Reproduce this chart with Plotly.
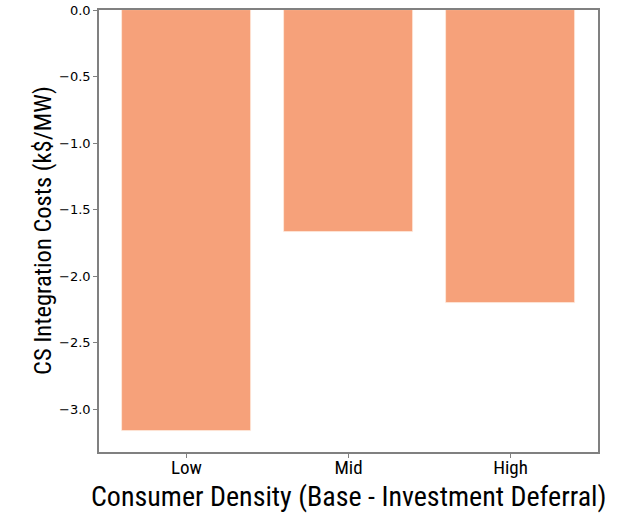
import plotly.graph_objects as go

# Consumer density scenarios and the cost change for each
categories = ["Low", "Mid", "High"]
costs = [-3.165, -1.669, -2.203]
y_ticks = [0.0, -0.5, -1.0, -1.5, -2.0, -2.5, -3.0]

bar_color = "#F6A17A"
frame_color = "#808080"
title_font = "Roboto Condensed, Liberation Sans Narrow, sans-serif"

fig = go.Figure()
fig.add_trace(go.Bar(
    x=list(range(len(categories))),
    y=costs,
    width=0.8,
    marker=dict(color=bar_color, line=dict(color="rgba(255,235,225,0.9)", width=0.8)),
    showlegend=False,
))

ymin = min(costs) * 1.05
fig.update_layout(
    width=624, height=513,
    margin=dict(l=99, r=26, t=10, b=61, autoexpand=False),
    plot_bgcolor="white", paper_bgcolor="white",
    bargap=0,
    xaxis=dict(
        range=[-0.54, 2.54],
        tickmode="array",
        tickvals=list(range(len(categories))),
        ticktext=categories,
        showline=True, mirror=True, linecolor=frame_color, linewidth=1.5,
        ticks="outside", ticklen=4, tickcolor=frame_color, tickwidth=1,
        tickfont=dict(family=title_font, size=19, color="black"),
        ticklabelstandoff=-7,
        showgrid=False, zeroline=False, automargin=False,
    ),
    yaxis=dict(
        range=[ymin, 0],
        tickmode="array",
        tickvals=y_ticks,
        ticktext=[f"{v:.1f}".replace("-", "\u2212") for v in y_ticks],
        showline=True, mirror=True, linecolor=frame_color, linewidth=1.5,
        ticks="outside", ticklen=4, tickcolor=frame_color, tickwidth=1,
        tickfont=dict(family="DejaVu Sans", size=13, color="black"),
        showgrid=False, zeroline=False, automargin=False,
    ),
    annotations=[
        dict(text="Consumer Density (Base - Investment Deferral)",
             xref="paper", yref="paper", x=0.5, y=0, yshift=-44,
             xanchor="center", yanchor="middle", showarrow=False,
             font=dict(family=title_font, size=28, color="black")),
        dict(text="CS Integration Costs (k$/MW)",
             xref="paper", yref="paper", x=0, y=0.5, xshift=-57,
             xanchor="center", yanchor="middle", textangle=-90, showarrow=False,
             font=dict(family=title_font, size=24.5, color="black")),
    ],
)

fig.write_html("out.html")
